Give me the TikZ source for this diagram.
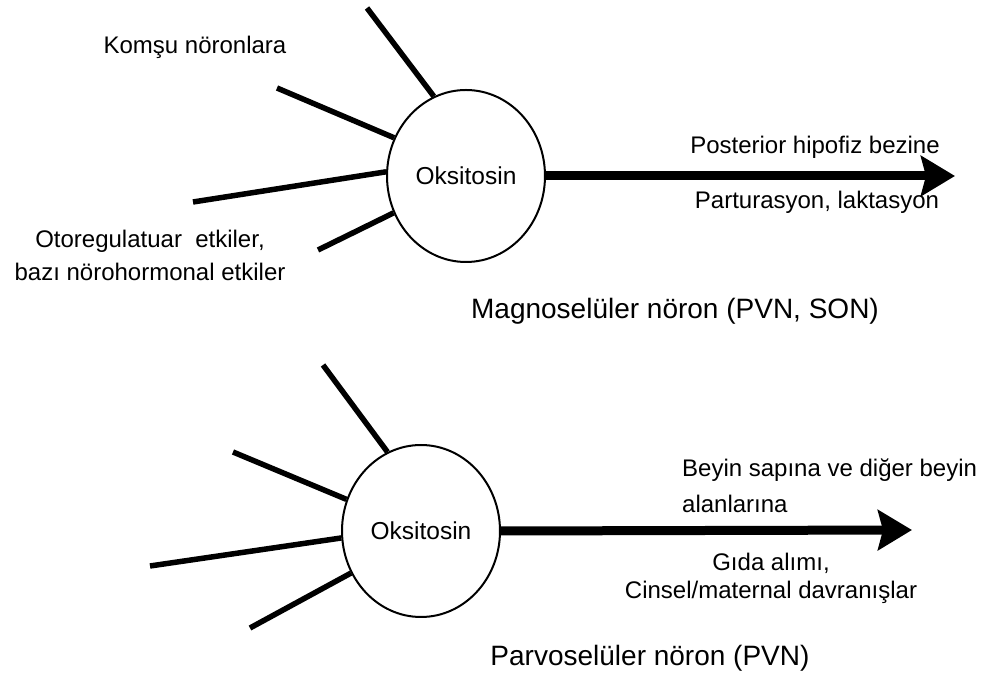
\documentclass[tikz,border=0pt]{standalone}
\usepackage{fontspec}
\setmainfont{Liberation Sans}
\usetikzlibrary{arrows.meta,shapes.geometric}

\begin{document}
\begin{tikzpicture}[x=1pt,y=1pt,
  soma/.style={draw, line width=2pt, ellipse, inner sep=0pt,
    minimum width=158pt, minimum height=172pt,
    font=\fontsize{24.5}{29}\selectfont},
  dendrite/.style={line width=5.5pt},
  axon/.style={line width=9pt, -{Stealth[length=34pt,width=40pt,inset=5pt]}},
  lbl/.style={font=\fontsize{24}{28}\selectfont, inner sep=0pt},
  title/.style={font=\fontsize{28}{34}\selectfont, inner sep=0pt}]
  \useasboundingbox (0,0) rectangle (986,680);

  \node[soma] (magno) at (466,504) {Oksitosin};
  \coordinate (m1) at (367,672);
  \coordinate (m2) at (277,592);
  \coordinate (m3) at (193,478);
  \coordinate (m4) at (318,430);
  \coordinate (mtip) at (955,504);

  \node[soma] (parvo) at (421,149) {Oksitosin};
  \coordinate (p1) at (323,315);
  \coordinate (p2) at (233,228);
  \coordinate (p3) at (150,114);
  \coordinate (p4) at (250,52);
  \coordinate (ptip) at (912,150);

  \draw[dendrite] (magno.112) -- (m1);
  \draw[dendrite] (magno.152) -- (m2);
  \draw[dendrite] (magno.177) -- (m3);
  \draw[dendrite] (magno.207) -- (m4);
  \draw[axon] (magno.east) -- (mtip);

  \draw[dendrite] (parvo.113) -- (p1);
  \draw[dendrite] (parvo.157) -- (p2);
  \draw[dendrite] (parvo.185) -- (p3);
  \draw[dendrite] (parvo.211) -- (p4);
  \draw[axon] (parvo.east) -- (ptip);

  \node[lbl] (komsu) at (195,633) {Komşu nöronlara};
  \node[lbl, align=center] (oto) at (150,425) {Otoregulatuar\ \ etkiler,\\[5pt] bazı nörohormonal etkiler};
  \node[lbl] (post) at (815,533) {Posterior hipofiz bezine};
  \node[lbl] (partur) at (817,478) {Parturasyon, laktasyon};
  \node[title] (mtitle) at (675,369) {Magnoselüler nöron (PVN, SON)};

  \node[lbl, anchor=west, align=left] (beyin) at (682,194) {Beyin sapına ve diğer beyin\\[8pt] alanlarına};
  \node[lbl, align=center] (gida) at (771,102) {Gıda alımı,\\ Cinsel/maternal davranışlar};
  \node[title] (ptitle) at (650,22) {Parvoselüler nöron (PVN)};
\end{tikzpicture}
\end{document}
